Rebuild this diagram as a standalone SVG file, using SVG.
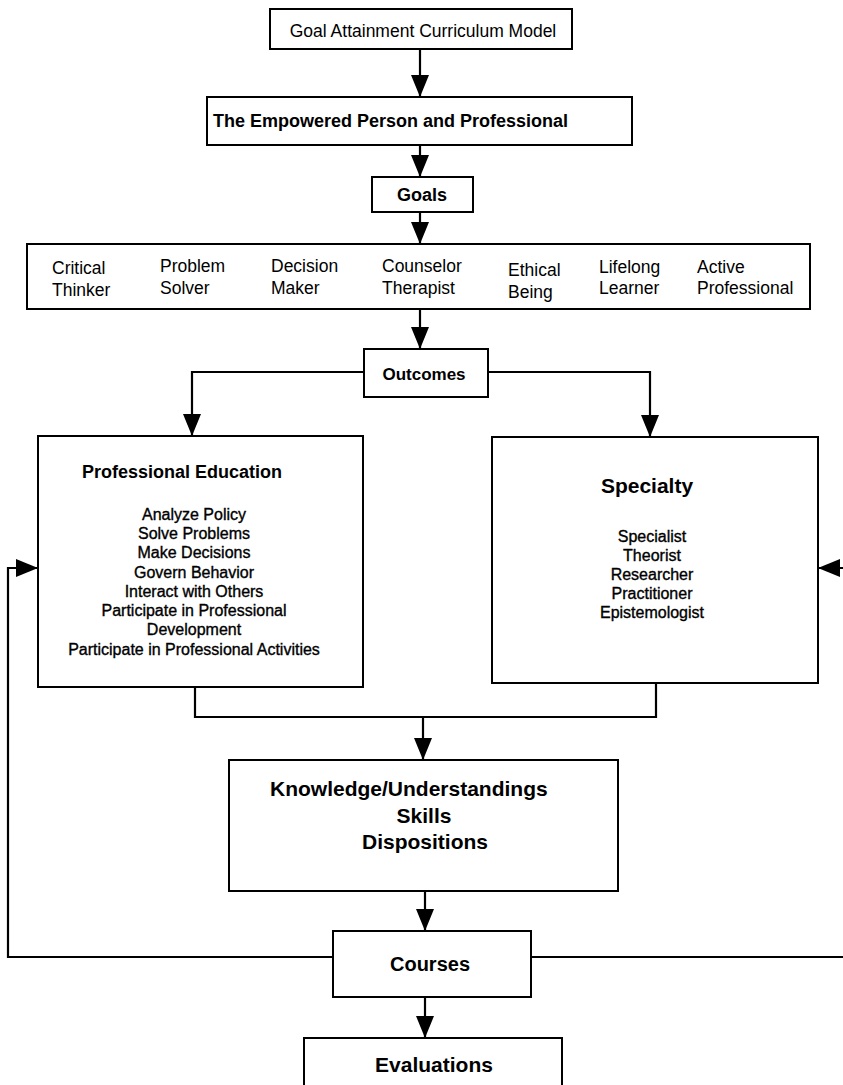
<svg xmlns="http://www.w3.org/2000/svg" width="843" height="1085" viewBox="0 0 843 1085">
  <defs>
    <marker id="arrow" markerUnits="userSpaceOnUse" markerWidth="22" markerHeight="18" refX="22" refY="9" orient="auto">
      <path d="M0,0 L22,9 L0,18 z" fill="#000"/>
    </marker>
    <style>
      .box { fill: #fff; stroke: #000; stroke-width: 2; }
      .conn { fill: none; stroke: #000; stroke-width: 2.2; }
      .t { font-family: "Liberation Sans", Arial, sans-serif; fill: #000; }
      .reg { font-size: 17.5px; }
      .bold { font-weight: bold; }
      .item { font-size: 16px; stroke: #000; stroke-width: 0.35; text-anchor: middle; }
      .mid { text-anchor: middle; }
    </style>
  </defs>
  <rect width="843" height="1085" fill="#fff"/>

  <!-- connectors -->
  <g id="connectors">
    <path class="conn" d="M420,49 V97" marker-end="url(#arrow)"/>
    <path class="conn" d="M420,145 V177" marker-end="url(#arrow)"/>
    <path class="conn" d="M420,212 V244" marker-end="url(#arrow)"/>
    <path class="conn" d="M420,309 V349" marker-end="url(#arrow)"/>
    <path class="conn" d="M364,372 H192 V436" marker-end="url(#arrow)"/>
    <path class="conn" d="M488,372 H650 V437" marker-end="url(#arrow)"/>
    <path class="conn" d="M195,687 V717 H656 V683"/>
    <path class="conn" d="M423,717 V760" marker-end="url(#arrow)"/>
    <path class="conn" d="M425,891 V931" marker-end="url(#arrow)"/>
    <path class="conn" d="M425,997 V1038" marker-end="url(#arrow)"/>
    <path class="conn" d="M333,957 H8 V568 H38" marker-end="url(#arrow)"/>
    <path class="conn" d="M531,957 H862 V568 H818" marker-end="url(#arrow)"/>
  </g>

  <g id="model">
    <rect class="box" x="270" y="9" width="302" height="40"/>
    <text class="t reg mid" x="423" y="37">Goal Attainment Curriculum Model</text>
  </g>

  <g id="empowered">
    <rect class="box" x="207" y="97" width="425" height="48"/>
    <text class="t bold" x="213" y="127" font-size="18">The Empowered Person and Professional</text>
  </g>

  <g id="goals">
    <rect class="box" x="372" y="177" width="101" height="35"/>
    <text class="t bold mid" x="422" y="201" font-size="18">Goals</text>
  </g>

  <g id="goal-list">
    <rect class="box" x="27" y="244" width="783" height="65"/>
    <text class="t reg" x="52" y="274">Critical</text>
    <text class="t reg" x="52" y="296">Thinker</text>
    <text class="t reg" x="160" y="272">Problem</text>
    <text class="t reg" x="160" y="294">Solver</text>
    <text class="t reg" x="271" y="272">Decision</text>
    <text class="t reg" x="271" y="294">Maker</text>
    <text class="t reg" x="382" y="272">Counselor</text>
    <text class="t reg" x="382" y="294">Therapist</text>
    <text class="t reg" x="508" y="276">Ethical</text>
    <text class="t reg" x="508" y="298">Being</text>
    <text class="t reg" x="599" y="273">Lifelong</text>
    <text class="t reg" x="599" y="294">Learner</text>
    <text class="t reg" x="697" y="273">Active</text>
    <text class="t reg" x="697" y="294">Professional</text>
  </g>

  <g id="outcomes">
    <rect class="box" x="364" y="349" width="124" height="48"/>
    <text class="t bold mid" x="424" y="380" font-size="17">Outcomes</text>
  </g>

  <g id="professional-education">
    <rect class="box" x="38" y="436" width="325" height="251"/>
    <text class="t bold" x="82" y="478" font-size="18">Professional Education</text>
    <text class="t item" x="194" y="520">Analyze Policy</text>
    <text class="t item" x="194" y="539">Solve Problems</text>
    <text class="t item" x="194" y="558">Make Decisions</text>
    <text class="t item" x="194" y="578">Govern Behavior</text>
    <text class="t item" x="194" y="597">Interact with Others</text>
    <text class="t item" x="194" y="616">Participate in Professional</text>
    <text class="t item" x="194" y="635">Development</text>
    <text class="t item" x="194" y="655">Participate in Professional Activities</text>
  </g>

  <g id="specialty">
    <rect class="box" x="492" y="437" width="326" height="246"/>
    <text class="t bold mid" x="647" y="493" font-size="21">Specialty</text>
    <text class="t item" x="652" y="542">Specialist</text>
    <text class="t item" x="652" y="561">Theorist</text>
    <text class="t item" x="652" y="580">Researcher</text>
    <text class="t item" x="652" y="599">Practitioner</text>
    <text class="t item" x="652" y="618">Epistemologist</text>
  </g>

  <g id="knowledge">
    <rect class="box" x="229" y="760" width="389" height="131"/>
    <text class="t bold" x="270" y="796" font-size="21">Knowledge/Understandings</text>
    <text class="t bold mid" x="424" y="823" font-size="21">Skills</text>
    <text class="t bold mid" x="425" y="849" font-size="21">Dispositions</text>
  </g>

  <g id="courses">
    <rect class="box" x="333" y="931" width="198" height="66"/>
    <text class="t bold mid" x="430" y="971" font-size="20">Courses</text>
  </g>

  <g id="evaluations">
    <rect class="box" x="304" y="1038" width="258" height="70"/>
    <text class="t bold mid" x="434" y="1072" font-size="21">Evaluations</text>
  </g>
</svg>
